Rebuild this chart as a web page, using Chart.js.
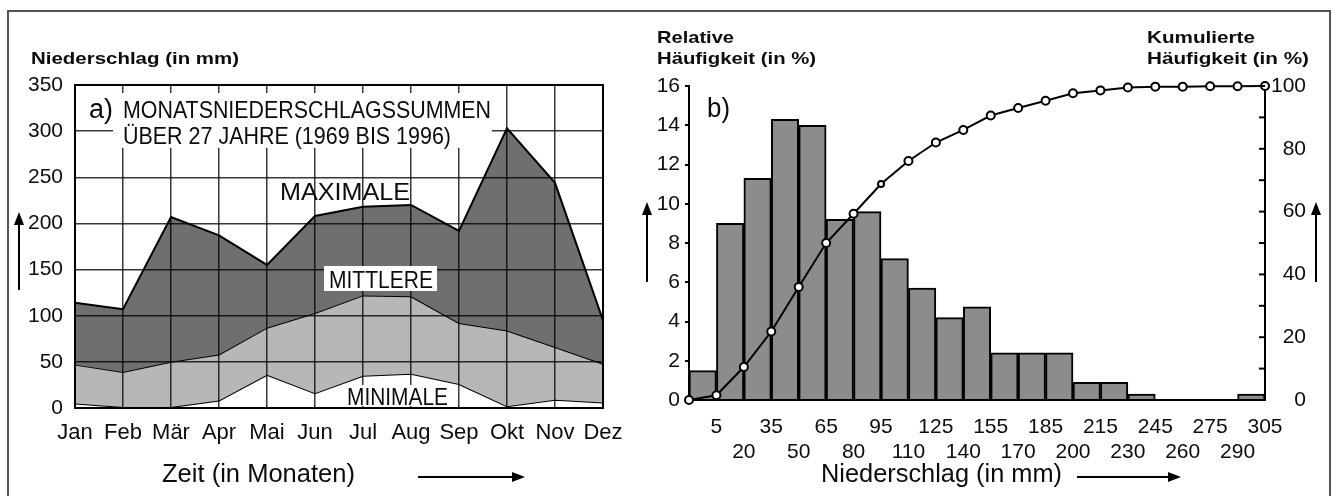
<!DOCTYPE html>
<html>
<head>
<meta charset="utf-8">
<script src="https://cdn.jsdelivr.net/npm/chart.js@4.4.1/dist/chart.umd.min.js"></script>
<style>
  html, body { margin: 0; padding: 0; background: #fff; }
  #page { position: relative; width: 1332px; height: 496px; overflow: hidden; background: #fff; }
  #frame { position: absolute; left: 7px; top: 10px; width: 1320px; height: 500px; border: 2px solid #555; z-index: 5; pointer-events: none; }
  #chartA { position: absolute; left: 0; top: 0; z-index: 1; }
  #chartB { position: absolute; left: 640px; top: 0; z-index: 1; }
</style>
</head>
<body>
<div id="page">
  <canvas id="chartA" width="640" height="496"></canvas>
  <canvas id="chartB" width="692" height="496"></canvas>
  <div id="frame"></div>
</div>
<script>
const FONT = '"Liberation Sans", Arial, Helvetica, sans-serif';

// --- data a) monthly precipitation --- //
const months = ['Jan', 'Feb', 'Mär', 'Apr', 'Mai', 'Jun', 'Jul', 'Aug', 'Sep', 'Okt', 'Nov', 'Dez'];
const maxRain = [114, 107, 207, 187, 155, 208, 218, 220, 192, 303, 244, 95];
const meanRain = [47, 39, 50, 58, 87, 103, 122, 121, 92, 84, 66, 48];
const minRain = [5, 1, 1, 8, 36, 16, 35, 37, 26, 2, 9, 6];
const rainTicks = [0, 50, 100, 150, 200, 250, 300, 350];

// --- data b) frequency distribution --- //
const binEdges = [5, 20, 35, 50, 65, 80, 95, 110, 125, 140, 155, 170, 185, 200, 215, 230, 245, 260, 275, 290, 305];
const relFreq = [1.5, 9.0, 11.3, 14.3, 14.0, 9.2, 9.6, 7.2, 5.7, 4.2, 4.75, 2.4, 2.4, 2.4, 0.9, 0.9, 0.3, 0, 0, 0, 0.3];
const cumFreq = [0, 1.5, 10.5, 21.8, 36, 50, 59.3, 68.8, 76.1, 82, 86, 90.6, 93, 95.3, 97.7, 98.6, 99.5, 99.8, 99.8, 99.9, 99.9, 100];
const relTicks = [0, 2, 4, 6, 8, 10, 12, 14, 16];
const cumTicks = [0, 20, 40, 60, 80, 100];

Chart.defaults.font.family = FONT;
Chart.defaults.color = '#0c0c0c';

// draw text squeezed/stretched to the width it has in the picture
function fitText(ctx, text, x, y, size, weight, width) {
  ctx.font = weight + ' ' + size + 'px ' + FONT;
  let w = ctx.measureText(text).width;
  ctx.save();
  ctx.translate(x, y);
  ctx.scale(width / w, 1);
  ctx.textAlign = 'left';
  ctx.textBaseline = 'alphabetic';
  ctx.fillText(text, 0, 0);
  ctx.restore();
}

function arrow(ctx, x1, y1, x2, y2) {
  let ang = Math.atan2(y2 - y1, x2 - x1);
  ctx.save();
  ctx.strokeStyle = '#000';
  ctx.fillStyle = '#000';
  ctx.lineWidth = 2;
  ctx.beginPath();
  ctx.moveTo(x1, y1);
  ctx.lineTo(x2 - 10 * Math.cos(ang), y2 - 10 * Math.sin(ang));
  ctx.stroke();
  ctx.translate(x2, y2);
  ctx.rotate(ang);
  ctx.beginPath();
  ctx.moveTo(0, 0);
  ctx.lineTo(-13, -5);
  ctx.lineTo(-13, 5);
  ctx.closePath();
  ctx.fill();
  ctx.restore();
}

// --- chart a) --- //
const notesA = {
  id: 'notesA',
  afterDraw(chart) {
    const ctx = chart.ctx;
    const a = chart.chartArea;
    ctx.save();
    ctx.strokeStyle = '#000';
    ctx.lineWidth = 2;
    ctx.strokeRect(a.left, a.top, a.right - a.left, a.bottom - a.top);

    ctx.fillStyle = '#fff';
    ctx.fillRect(86, 93, 28, 29);
    ctx.fillRect(113, 93, 379, 55);
    ctx.fillRect(324, 266, 113, 25);
    ctx.fillRect(343, 385, 109, 21);

    ctx.fillStyle = '#0c0c0c';
    fitText(ctx, 'Niederschlag (in mm)', 31, 64, 17, 'bold', 208);
    fitText(ctx, 'a)', 89, 118, 27, 'normal', 24);
    fitText(ctx, 'MONATSNIEDERSCHLAGSSUMMEN', 123, 118, 24, 'normal', 368);
    fitText(ctx, 'ÜBER 27 JAHRE (1969 BIS 1996)', 123, 144, 24, 'normal', 328);
    fitText(ctx, 'MAXIMALE', 280, 200, 24, 'normal', 130);
    fitText(ctx, 'MITTLERE', 329, 288, 24, 'normal', 104);
    fitText(ctx, 'MINIMALE', 347, 405, 24, 'normal', 101);
    fitText(ctx, 'Zeit (in Monaten)', 162, 482, 26, 'normal', 193);
    ctx.restore();

    arrow(ctx, 418, 477, 525, 477);
    arrow(ctx, 19, 290, 19, 212);
  }
};

new Chart(document.getElementById('chartA'), {
  type: 'line',
  data: {
    labels: months,
    datasets: [
      {
        label: 'Maximale',
        data: maxRain,
        borderColor: '#000',
        borderWidth: 2,
        backgroundColor: '#6f6f6f',
        fill: '+1',
        pointRadius: 0,
        tension: 0,
      },
      {
        label: 'Mittlere',
        data: meanRain,
        borderColor: '#000',
        borderWidth: 2,
        backgroundColor: '#b7b7b7',
        fill: '+1',
        pointRadius: 0,
        tension: 0,
      },
      {
        label: 'Minimale',
        data: minRain,
        borderColor: '#000',
        borderWidth: 2,
        fill: false,
        pointRadius: 0,
        tension: 0,
      },
    ],
  },
  options: {
    responsive: false,
    animation: false,
    devicePixelRatio: 1,
    layout: { padding: { top: 85, right: 37, left: 0, bottom: 0 } },
    plugins: { legend: { display: false }, tooltip: { enabled: false } },
    scales: {
      x: {
        type: 'category',
        offset: false,
        grid: { color: 'rgba(0,0,0,0.78)', lineWidth: 1.5, drawTicks: false, z: 1 },
        border: { display: true, color: '#000', width: 2, z: 2 },
        ticks: { font: { size: 22 }, padding: 12, maxRotation: 0, autoSkip: false },
        afterFit: (s) => { s.height = 88; s.paddingLeft = 0; s.paddingRight = 0; },
      },
      y: {
        min: 0,
        max: 350,
        afterBuildTicks: (s) => { s.ticks = rainTicks.map((v) => ({ value: v })); },
        grid: { color: 'rgba(0,0,0,0.78)', lineWidth: 1.5, drawTicks: false, z: 1 },
        border: { display: true, color: '#000', width: 2, z: 2 },
        ticks: { font: { size: 21 }, padding: 12 },
        afterFit: (s) => { s.width = 75; s.paddingTop = 0; s.paddingBottom = 0; },
      },
    },
  },
  plugins: [notesA],
});

// --- chart b) --- //
const notesB = {
  id: 'notesB',
  afterDraw(chart) {
    const ctx = chart.ctx;
    const a = chart.chartArea;
    const y2 = chart.scales.y2;
    ctx.save();
    ctx.strokeStyle = '#000';
    ctx.lineWidth = 2;
    for (let v = 0; v <= 100; v += 10) {
      let py = y2.getPixelForValue(v);
      ctx.beginPath();
      ctx.moveTo(a.right - 6, py);
      ctx.lineTo(a.right, py);
      ctx.stroke();
    }
    ctx.fillStyle = '#0c0c0c';
    fitText(ctx, 'Relative', 17, 43, 17, 'bold', 77);
    fitText(ctx, 'Häufigkeit (in %)', 17, 64, 17, 'bold', 159);
    fitText(ctx, 'Kumulierte', 507, 43, 17, 'bold', 108);
    fitText(ctx, 'Häufigkeit (in %)', 507, 64, 17, 'bold', 162);
    fitText(ctx, 'b)', 67, 117, 27, 'normal', 23);
    fitText(ctx, 'Niederschlag (in mm)', 181, 482, 26, 'normal', 241);
    ctx.restore();

    arrow(ctx, 437, 477, 541, 477);
    arrow(ctx, 7, 282, 7, 202);
    arrow(ctx, 676, 282, 676, 202);
  }
};

const firstEdge = binEdges[0] - 15;
const lastEdge = binEdges[binEdges.length - 1];

new Chart(document.getElementById('chartB'), {
  type: 'bar',
  data: {
    datasets: [
      {
        type: 'line',
        label: 'Kumulierte Häufigkeit',
        data: cumFreq.map((v, i) => ({ x: i === 0 ? firstEdge : binEdges[i - 1], y: v })),
        yAxisID: 'y2',
        borderColor: '#000',
        borderWidth: 2,
        pointRadius: cumFreq.map((v, i) => (i === 7 ? 3 : 4)),
        pointBackgroundColor: '#fff',
        pointBorderColor: '#000',
        pointBorderWidth: 2,
        tension: 0,
        clip: false,
        order: 1,
      },
      {
        label: 'Relative Häufigkeit',
        data: relFreq.map((v, i) => ({ x: binEdges[i] - 7.5, y: v })),
        yAxisID: 'y',
        backgroundColor: '#8c8c8c',
        borderColor: '#000',
        borderWidth: 2,
        barPercentage: 1,
        categoryPercentage: 1,
        order: 2,
      },
    ],
  },
  options: {
    responsive: false,
    animation: false,
    devicePixelRatio: 1,
    layout: { padding: { top: 86, right: 26, left: 0, bottom: 0 } },
    plugins: { legend: { display: false }, tooltip: { enabled: false } },
    scales: {
      x: {
        type: 'linear',
        offset: false,
        min: firstEdge,
        max: lastEdge,
        afterBuildTicks: (s) => { s.ticks = binEdges.map((v) => ({ value: v })); },
        grid: { display: false, offset: false },
        border: { display: true, color: '#000', width: 2 },
        ticks: {
          font: { size: 21, lineHeight: 1.19 },
          padding: 7,
          maxRotation: 0,
          autoSkip: false,
          callback: (v) => {
            let i = binEdges.indexOf(v);
            return i % 2 === 0 ? [String(v)] : ['', String(v)];
          },
        },
        afterFit: (s) => { s.height = 96; s.paddingLeft = 0; s.paddingRight = 0; },
      },
      y: {
        position: 'left',
        min: 0,
        max: 16,
        afterBuildTicks: (s) => { s.ticks = relTicks.map((v) => ({ value: v })); },
        grid: { drawOnChartArea: false, drawTicks: true, tickLength: 4, color: '#000', lineWidth: 2 },
        border: { display: true, color: '#000', width: 2 },
        ticks: { font: { size: 21 }, padding: 5 },
        afterFit: (s) => { s.width = 49; s.paddingTop = 0; s.paddingBottom = 0; },
      },
      y2: {
        position: 'right',
        min: 0,
        max: 100,
        afterBuildTicks: (s) => { s.ticks = cumTicks.map((v) => ({ value: v })); },
        grid: { display: false },
        border: { display: true, color: '#000', width: 2 },
        ticks: { font: { size: 21 }, crossAlign: 'far' },
        afterFit: (s) => { s.width = 41; s.paddingTop = 0; s.paddingBottom = 0; },
      },
    },
  },
  plugins: [notesB],
});
</script>
</body>
</html>
